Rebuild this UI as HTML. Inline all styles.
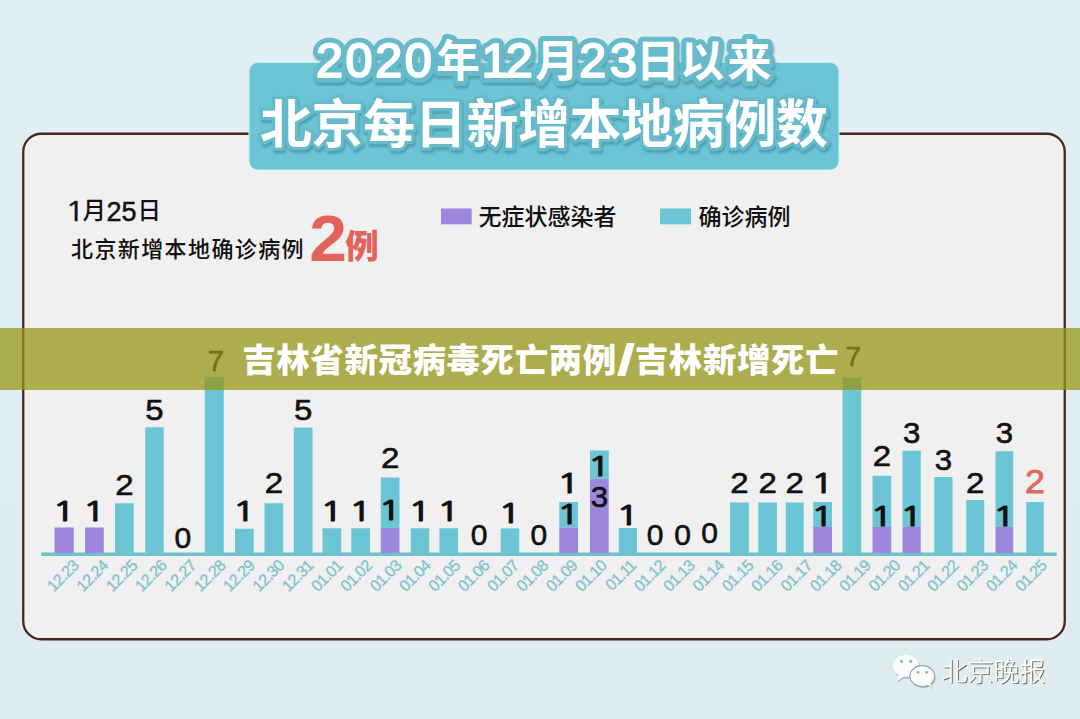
<!DOCTYPE html>
<html lang="zh-CN">
<head>
<meta charset="utf-8">
<title>吉林省新冠病毒死亡两例/吉林新增死亡</title>
<style>
html,body{margin:0;padding:0;background:#e1eef2;}
body{width:1080px;height:719px;overflow:hidden;position:relative;font-family:"Liberation Sans","Noto Sans CJK SC",sans-serif;}
svg{position:absolute;left:0;top:0;display:block;}
svg text{font-family:"Liberation Sans","Noto Sans CJK SC",sans-serif;}
.dg{font-size:30px;text-anchor:middle;stroke-width:0.6px;}
.d1{font-family:"NanumGothic","Liberation Sans",sans-serif !important;font-weight:normal;font-size:27px;text-anchor:middle;stroke-width:1.1px;}
.dt{font-size:16px;letter-spacing:-0.7px;text-anchor:end;fill:#80c2cb;stroke:#80c2cb;stroke-width:0.3px;}
.band{position:absolute;left:0;top:328px;width:1080px;height:61.5px;background:rgba(150,150,20,0.74);}
.band span.bt{position:absolute;left:0.7px;width:1080px;text-align:center;top:1.5px;line-height:61.5px;color:#fff;font-weight:900;font-size:33.5px;letter-spacing:0.55px;white-space:nowrap;}
.band span.sl{display:inline-block;width:18px;text-align:center;font-size:44px;font-weight:900;letter-spacing:0;line-height:1;position:relative;top:3px;transform:scaleX(1.55);}
</style>
</head>
<body>
<svg width="1080" height="719" viewBox="0 0 1080 719">
<defs>
<filter id="ts" x="-5%" y="-20%" width="110%" height="150%">
<feDropShadow dx="1.2" dy="2.8" stdDeviation="1.3" flood-color="#4a98a9" flood-opacity="0.85"/>
</filter>
<linearGradient id="bg" x1="0" y1="0" x2="0" y2="1"><stop offset="0" stop-color="#e1eef2"/><stop offset="0.6" stop-color="#e0edf1"/><stop offset="1" stop-color="#deecef"/></linearGradient>
</defs>
<rect x="0" y="0" width="1080" height="719" fill="url(#bg)"/>
<!-- panel -->
<rect x="23.25" y="133.75" width="1041.5" height="505.5" rx="18" ry="18" fill="#f0f0f0" stroke="#46261f" stroke-width="2.3"/>
<!-- title box -->
<rect x="249" y="62.5" width="590" height="107.5" rx="9" ry="9" fill="#6cc5d5" stroke="#c9f1f6" stroke-width="1"/>
<g filter="url(#ts)" fill="#66bac9" stroke="#66bac9" stroke-linejoin="round">
<text y="77.1" font-size="48.5" stroke-width="11.5"><tspan x="316" letter-spacing="2.6">2020</tspan><tspan x="481.5">1</tspan><tspan x="505.8">2</tspan><tspan x="579.2">2</tspan><tspan x="610">3</tspan></text>
<text y="76.7" font-size="44" font-weight="bold" stroke-width="10"><tspan x="436">年</tspan><tspan x="535">月</tspan><tspan x="636">日以</tspan><tspan x="727.5">来</tspan></text>
<text x="260" y="143" font-size="52" font-weight="bold" letter-spacing="-0.4" stroke-width="6.5">北京每日新增本地病例数</text>
</g>
<g fill="#fff">
<text y="77.1" font-size="48.5" stroke="#fff" stroke-width="2" stroke-linejoin="round"><tspan x="316" letter-spacing="2.6">2020</tspan><tspan x="481.5">1</tspan><tspan x="505.8">2</tspan><tspan x="579.2">2</tspan><tspan x="610">3</tspan></text>
<text y="76.7" font-size="44" font-weight="bold"><tspan x="436">年</tspan><tspan x="535">月</tspan><tspan x="636">日以</tspan><tspan x="727.5">来</tspan></text>
<text x="260" y="143" font-size="52" font-weight="bold" letter-spacing="-0.4">北京每日新增本地病例数</text>
</g>
<!-- header texts -->
<text y="220.6" font-size="27" fill="#111" stroke="#111" stroke-width="0.5"><tspan x="106.5">25</tspan></text>
<text class="d1" transform="translate(75 220.6) scale(1.25 1)" style="font-weight:normal;font-size:26.5px;stroke-width:0.45px" fill="#111" stroke="#111">1</text>
<text y="219" font-size="23.5" font-weight="500" fill="#111"><tspan x="82.5">月</tspan><tspan x="137.5">日</tspan></text>
<text x="71" y="257" font-size="22" font-weight="500" letter-spacing="1.4" fill="#111">北京新增本地确诊病例</text>
<text transform="translate(309.2 261) scale(1.06 1)" fill="#e2635c" font-weight="bold" font-size="64">2</text>
<text x="345.3" y="258" fill="#e2635c" font-weight="900" font-size="33.5">例</text>
<!-- legend -->
<rect x="441" y="208.5" width="30.7" height="15.8" fill="#9c86de"/>
<text x="478.5" y="225" font-size="23" font-weight="500" fill="#111">无症状感染者</text>
<rect x="660" y="208.5" width="31" height="15.8" fill="#6cc5d5"/>
<text x="698.5" y="225" font-size="23" font-weight="500" fill="#111">确诊病例</text>
<!-- chart -->
<rect x="41.25" y="552.5" width="1015.5" height="3.5" fill="#6fc1cd"/>
<rect x="54.5" y="527.5" width="19.25" height="25.50" fill="#9c86de"/>
<text class="d1" transform="translate(63.83 521.25) scale(1.42 1)" fill="#111" stroke="#111">1</text>
<text class="dt" transform="translate(79.60 566.6) rotate(-45)">12.23</text>
<rect x="85.0" y="527.5" width="18.75" height="25.50" fill="#9c86de"/>
<text class="d1" transform="translate(94.08 521.25) scale(1.42 1)" fill="#111" stroke="#111">1</text>
<text class="dt" transform="translate(108.94 566.6) rotate(-45)">12.24</text>
<rect x="115.0" y="503.25" width="18.75" height="49.75" fill="#6cc5d5"/>
<text class="dg" transform="translate(124.38 494.5) scale(1.1 1)" fill="#111" stroke="#111">2</text>
<text class="dt" transform="translate(138.27 566.6) rotate(-45)">12.25</text>
<rect x="145.25" y="427.25" width="18.50" height="125.75" fill="#6cc5d5"/>
<text class="dg" transform="translate(154.50 420.0) scale(1.1 1)" fill="#111" stroke="#111">5</text>
<text class="dt" transform="translate(167.60 566.6) rotate(-45)">12.26</text>
<text class="dg" transform="translate(182.75 548.0) scale(1.0 1)" fill="#111" stroke="#111">0</text>
<text class="dt" transform="translate(196.94 566.6) rotate(-45)">12.27</text>
<rect x="204.75" y="376.75" width="19.00" height="176.25" fill="#6cc5d5"/>
<text class="dg" transform="translate(215.75 370.8) scale(0.97 1)" style="font-size:30px" fill="#111" stroke="#111">7</text>
<text class="dt" transform="translate(226.28 566.6) rotate(-45)">12.28</text>
<rect x="235.0" y="528.75" width="18.75" height="24.25" fill="#6cc5d5"/>
<text class="d1" transform="translate(244.07 520.5) scale(1.42 1)" fill="#111" stroke="#111">1</text>
<text class="dt" transform="translate(255.61 566.6) rotate(-45)">12.29</text>
<rect x="264.5" y="503.25" width="18.75" height="49.75" fill="#6cc5d5"/>
<text class="dg" transform="translate(273.88 493.0) scale(1.1 1)" fill="#111" stroke="#111">2</text>
<text class="dt" transform="translate(284.94 566.6) rotate(-45)">12.30</text>
<rect x="293.75" y="427.5" width="18.75" height="125.50" fill="#6cc5d5"/>
<text class="dg" transform="translate(303.12 419.5) scale(1.1 1)" fill="#111" stroke="#111">5</text>
<text class="dt" transform="translate(314.28 566.6) rotate(-45)">12.31</text>
<rect x="322.5" y="528.25" width="18.75" height="24.75" fill="#6cc5d5"/>
<text class="d1" transform="translate(331.57 521.25) scale(1.42 1)" fill="#111" stroke="#111">1</text>
<text class="dt" transform="translate(343.62 566.6) rotate(-45)">01.01</text>
<rect x="351.25" y="528.25" width="18.75" height="24.75" fill="#6cc5d5"/>
<text class="d1" transform="translate(360.32 521.25) scale(1.42 1)" fill="#111" stroke="#111">1</text>
<text class="dt" transform="translate(372.95 566.6) rotate(-45)">01.02</text>
<rect x="380.75" y="477.5" width="18.75" height="50.50" fill="#6cc5d5"/>
<rect x="380.75" y="528.0" width="18.75" height="25.00" fill="#9c86de"/>
<text class="dg" transform="translate(390.12 467.5) scale(1.1 1)" fill="#111" stroke="#111">2</text>
<text class="d1" transform="translate(389.82 520.0) scale(1.42 1)" fill="#111" stroke="#111">1</text>
<text class="dt" transform="translate(402.28 566.6) rotate(-45)">01.03</text>
<rect x="410.75" y="528.25" width="18.50" height="24.75" fill="#6cc5d5"/>
<text class="d1" transform="translate(419.70 521.25) scale(1.42 1)" fill="#111" stroke="#111">1</text>
<text class="dt" transform="translate(431.62 566.6) rotate(-45)">01.04</text>
<rect x="439.5" y="528.25" width="18.50" height="24.75" fill="#6cc5d5"/>
<text class="d1" transform="translate(448.45 521.25) scale(1.42 1)" fill="#111" stroke="#111">1</text>
<text class="dt" transform="translate(460.96 566.6) rotate(-45)">01.05</text>
<text class="dg" transform="translate(479.00 545.0) scale(1.0 1)" fill="#111" stroke="#111">0</text>
<text class="dt" transform="translate(490.29 566.6) rotate(-45)">01.06</text>
<rect x="500.7" y="528.4" width="18.55" height="24.60" fill="#6cc5d5"/>
<text class="d1" transform="translate(509.68 522.5) scale(1.42 1)" fill="#111" stroke="#111">1</text>
<text class="dt" transform="translate(519.62 566.6) rotate(-45)">01.07</text>
<text class="dg" transform="translate(538.75 545.0) scale(1.0 1)" fill="#111" stroke="#111">0</text>
<text class="dt" transform="translate(548.96 566.6) rotate(-45)">01.08</text>
<rect x="559.25" y="502.0" width="18.75" height="25.50" fill="#6cc5d5"/>
<rect x="559.25" y="527.5" width="18.75" height="25.50" fill="#9c86de"/>
<text class="d1" transform="translate(568.33 492.5) scale(1.42 1)" fill="#111" stroke="#111">1</text>
<text class="d1" transform="translate(568.33 524.0) scale(1.42 1)" fill="#111" stroke="#111">1</text>
<text class="dt" transform="translate(578.29 566.6) rotate(-45)">01.09</text>
<rect x="590.0" y="450.5" width="18.75" height="28.25" fill="#6cc5d5"/>
<rect x="590.0" y="478.75" width="18.75" height="74.25" fill="#9c86de"/>
<text class="d1" transform="translate(599.08 475.5) scale(1.42 1)" fill="#111" stroke="#111">1</text>
<text class="dg" transform="translate(599.38 506.75) scale(1.04 1)" fill="#111" stroke="#111">3</text>
<text class="dt" transform="translate(607.63 566.6) rotate(-45)">01.10</text>
<rect x="618.75" y="528.0" width="18.25" height="25.00" fill="#6cc5d5"/>
<text class="d1" transform="translate(627.58 525.0) scale(1.42 1)" fill="#111" stroke="#111">1</text>
<text class="dt" transform="translate(636.97 566.6) rotate(-45)">01.11</text>
<text class="dg" transform="translate(655.00 544.5) scale(1.0 1)" fill="#111" stroke="#111">0</text>
<text class="dt" transform="translate(666.30 566.6) rotate(-45)">01.12</text>
<text class="dg" transform="translate(682.50 544.5) scale(1.0 1)" fill="#111" stroke="#111">0</text>
<text class="dt" transform="translate(695.63 566.6) rotate(-45)">01.13</text>
<text class="dg" transform="translate(709.50 543.0) scale(1.0 1)" fill="#111" stroke="#111">0</text>
<text class="dt" transform="translate(724.97 566.6) rotate(-45)">01.14</text>
<rect x="730.0" y="502.5" width="18.75" height="50.50" fill="#6cc5d5"/>
<text class="dg" transform="translate(739.38 492.5) scale(1.1 1)" fill="#111" stroke="#111">2</text>
<text class="dt" transform="translate(754.31 566.6) rotate(-45)">01.15</text>
<rect x="758.25" y="502.5" width="18.75" height="50.50" fill="#6cc5d5"/>
<text class="dg" transform="translate(767.62 492.5) scale(1.1 1)" fill="#111" stroke="#111">2</text>
<text class="dt" transform="translate(783.64 566.6) rotate(-45)">01.16</text>
<rect x="785.75" y="502.5" width="18.00" height="50.50" fill="#6cc5d5"/>
<text class="dg" transform="translate(794.75 492.5) scale(1.1 1)" fill="#111" stroke="#111">2</text>
<text class="dt" transform="translate(812.98 566.6) rotate(-45)">01.17</text>
<rect x="813.25" y="502.0" width="18.75" height="25.00" fill="#6cc5d5"/>
<rect x="813.25" y="527.0" width="18.75" height="26.00" fill="#9c86de"/>
<text class="d1" transform="translate(822.33 493.0) scale(1.42 1)" fill="#111" stroke="#111">1</text>
<text class="d1" transform="translate(822.33 525.5) scale(1.42 1)" fill="#111" stroke="#111">1</text>
<text class="dt" transform="translate(842.31 566.6) rotate(-45)">01.18</text>
<rect x="842.5" y="377.5" width="18.75" height="175.50" fill="#6cc5d5"/>
<text class="dg" transform="translate(853.38 366.2) scale(1.0 1)" style="font-size:28px" fill="#111" stroke="#111">7</text>
<text class="dt" transform="translate(871.65 566.6) rotate(-45)">01.19</text>
<rect x="872.5" y="475.75" width="18.75" height="51.25" fill="#6cc5d5"/>
<rect x="872.5" y="527.0" width="18.75" height="26.00" fill="#9c86de"/>
<text class="dg" transform="translate(881.88 465.5) scale(1.1 1)" fill="#111" stroke="#111">2</text>
<text class="d1" transform="translate(881.58 525.5) scale(1.42 1)" fill="#111" stroke="#111">1</text>
<text class="dt" transform="translate(900.98 566.6) rotate(-45)">01.20</text>
<rect x="902.5" y="450.75" width="18.25" height="76.25" fill="#6cc5d5"/>
<rect x="902.5" y="527.0" width="18.25" height="26.00" fill="#9c86de"/>
<text class="dg" transform="translate(911.62 442.5) scale(1.04 1)" fill="#111" stroke="#111">3</text>
<text class="d1" transform="translate(911.33 525.5) scale(1.42 1)" fill="#111" stroke="#111">1</text>
<text class="dt" transform="translate(930.32 566.6) rotate(-45)">01.21</text>
<rect x="934.25" y="477.0" width="18.25" height="76.00" fill="#6cc5d5"/>
<text class="dg" transform="translate(943.38 469.5) scale(1.04 1)" fill="#111" stroke="#111">3</text>
<text class="dt" transform="translate(959.65 566.6) rotate(-45)">01.22</text>
<rect x="966.25" y="500.0" width="18.00" height="53.00" fill="#6cc5d5"/>
<text class="dg" transform="translate(975.25 493.0) scale(1.1 1)" fill="#111" stroke="#111">2</text>
<text class="dt" transform="translate(988.99 566.6) rotate(-45)">01.23</text>
<rect x="995.5" y="451.25" width="17.75" height="75.75" fill="#6cc5d5"/>
<rect x="995.5" y="527.0" width="17.75" height="26.00" fill="#9c86de"/>
<text class="dg" transform="translate(1004.38 443.0) scale(1.04 1)" fill="#111" stroke="#111">3</text>
<text class="d1" transform="translate(1004.08 525.5) scale(1.42 1)" fill="#111" stroke="#111">1</text>
<text class="dt" transform="translate(1018.32 566.6) rotate(-45)">01.24</text>
<rect x="1026.25" y="502.0" width="17.50" height="51.00" fill="#6cc5d5"/>
<text class="dg" transform="translate(1035.00 493.0) scale(1.1 1)" fill="#dc6a64" stroke="#dc6a64" style="font-size:32.5px;stroke-width:0.9px">2</text>
<text class="dt" transform="translate(1047.65 566.6) rotate(-45)">01.25</text>
<!-- watermark -->
<g>
<ellipse cx="907" cy="667.6" rx="13.2" ry="11.2" fill="#7d8a8f" opacity="0.55"/>
<path d="M899.5 676 L897.5 682.5 L905 677.5 Z" fill="#7d8a8f" opacity="0.55"/>
<ellipse cx="906" cy="666" rx="13" ry="11" fill="#fbfdfd"/>
<path d="M899 675 L897 681 L904.5 676.4 Z" fill="#fbfdfd"/>
<ellipse cx="923.3" cy="677.7" rx="12.2" ry="10.2" fill="#7d8a8f" opacity="0.6"/>
<path d="M927.5 685 L933 689.3 L931 683 Z" fill="#7d8a8f" opacity="0.55"/>
<ellipse cx="922.2" cy="676" rx="12.3" ry="10.3" fill="#fbfdfd" stroke="#98a6aa" stroke-width="1.3"/>
<ellipse cx="922.4" cy="676.3" rx="11.6" ry="9.7" fill="#fbfdfd"/>
<path d="M927 684 L932 688 L930 682 Z" fill="#fbfdfd"/>
<circle cx="901.5" cy="661.3" r="1.5" fill="#9aa6aa"/><circle cx="910.7" cy="661.3" r="1.5" fill="#9aa6aa"/>
<circle cx="918" cy="672.2" r="1.3" fill="#9aa6aa"/><circle cx="926.5" cy="672.2" r="1.3" fill="#9aa6aa"/>
<text x="942.7" y="682.3" font-size="25.8" font-weight="300" letter-spacing="0.2" fill="#3e4548" opacity="0.85">北京晚报</text>
<text x="941.6" y="681.2" font-size="25.8" font-weight="300" letter-spacing="0.2" fill="#fff" stroke="#fff" stroke-width="0.25">北京晚报</text>
</g>
</svg>
<div class="band"><span class="bt">吉林省新冠病毒死亡两例<span class="sl">/</span>吉林新增死亡</span></div>
</body>
</html>
